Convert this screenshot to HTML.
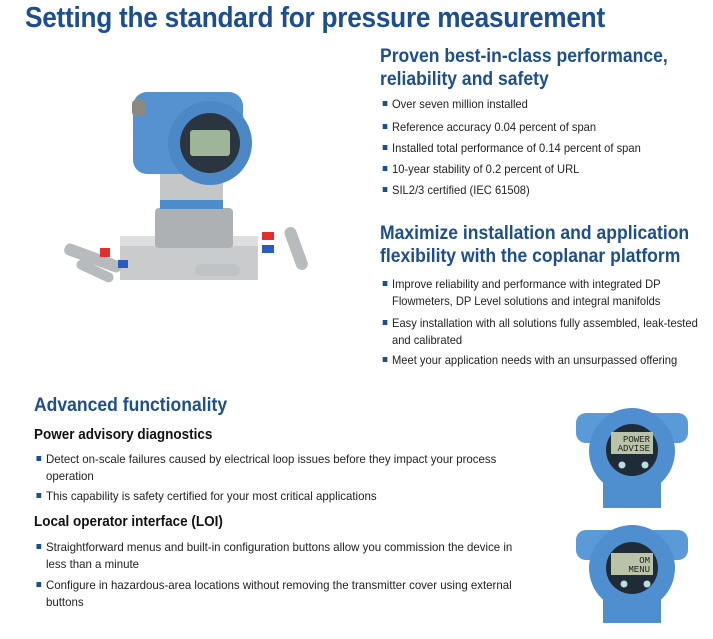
<!DOCTYPE html>
<html><head><meta charset="utf-8"><style>
body{margin:0;width:713px;height:639px;background:#fff;position:relative;overflow:hidden;font-family:"Liberation Sans",sans-serif}
.a{position:absolute;white-space:nowrap}
.t{left:25px;top:2px;font-size:29px;font-weight:bold;color:#1d4f8e;transform:scaleX(0.905);transform-origin:0 0;letter-spacing:-0.3px}
.h{font-size:19.5px;font-weight:bold;color:#1d4f8e;transform:scaleX(0.9);transform-origin:0 0;line-height:23px}
.h2{font-size:14.5px;font-weight:bold;color:#111;transform:scaleX(0.93);transform-origin:0 0}
.b{font-size:12px;color:#222;line-height:16.5px;transform:scaleX(0.93);transform-origin:0 0}
.c{transform:scaleX(0.955)}
.b:before{content:"";position:absolute;left:-10px;top:5px;width:5px;height:5px;background:#1d4f8e}
</style></head><body>
<div class="a t">Setting the standard for pressure measurement</div>
<div class="a h" style="left:380px;top:45px">Proven best-in-class performance,<br>reliability and safety</div>
<div class="a b" style="left:392px;top:96px">Over seven million installed</div>
<div class="a b" style="left:392px;top:119px">Reference accuracy 0.04 percent of span</div>
<div class="a b" style="left:392px;top:140px">Installed total performance of 0.14 percent of span</div>
<div class="a b" style="left:392px;top:161px">10-year stability of 0.2 percent of URL</div>
<div class="a b" style="left:392px;top:182px">SIL2/3 certified (IEC 61508)</div>
<div class="a h" style="left:380px;top:222px">Maximize installation and application<br>flexibility with the coplanar platform</div>
<div class="a b" style="left:392px;top:276px">Improve reliability and performance with integrated DP<br>Flowmeters, DP Level solutions and integral manifolds</div>
<div class="a b" style="left:392px;top:315px">Easy installation with all solutions fully assembled, leak-tested<br>and calibrated</div>
<div class="a b" style="left:392px;top:352px">Meet your application needs with an unsurpassed offering</div>
<div class="a h" style="left:34px;top:394px">Advanced functionality</div>
<div class="a h2" style="left:34px;top:427px">Power advisory diagnostics</div>
<div class="a b c" style="left:46px;top:451px">Detect on-scale failures caused by electrical loop issues before they impact your process<br>operation</div>
<div class="a b c" style="left:46px;top:488px">This capability is safety certified for your most critical applications</div>
<div class="a h2" style="left:34px;top:514px">Local operator interface (LOI)</div>
<div class="a b c" style="left:46px;top:539px">Straightforward menus and built-in configuration buttons allow you commission the device in<br>less than a minute</div>
<div class="a b c" style="left:46px;top:577px">Configure in hazardous-area locations without removing the transmitter cover using external<br>buttons</div>

<svg class="a" style="left:0;top:0" width="713" height="639">
<g stroke="none">
<rect x="120" y="236" width="138" height="44" fill="#c9cbcc"/>
<rect x="120" y="236" width="138" height="10" fill="#dcdedf"/>
<rect x="63" y="252" width="60" height="12" rx="5" fill="#b8bbbe" transform="rotate(20 93 258)"/>
<rect x="75" y="266" width="40" height="10" rx="5" fill="#b8bbbe" transform="rotate(25 95 271)"/>
<rect x="100" y="248" width="10" height="9" fill="#e03030"/>
<rect x="118" y="260" width="10" height="8" fill="#2a5bc0"/>
<rect x="262" y="232" width="12" height="8" fill="#e03030"/>
<rect x="262" y="245" width="12" height="8" fill="#2a5bc0"/>
<rect x="290" y="226" width="12" height="45" rx="6" fill="#b8bbbe" transform="rotate(-20 296 248)"/>
<rect x="195" y="264" width="45" height="12" rx="6" fill="#c0c3c5"/>
<rect x="155" y="208" width="78" height="40" rx="4" fill="#aeb1b3"/>
<rect x="160" y="172" width="63" height="34" fill="#c4c6c8"/>
<rect x="160" y="200" width="63" height="9" fill="#4d8cc8"/>
<rect x="133" y="92" width="110" height="82" rx="14" fill="#5592cf"/>
<rect x="132" y="100" width="14" height="16" rx="4" fill="#8a8a80"/>
<circle cx="210" cy="143" r="42" fill="#4c88c6"/>
<circle cx="210" cy="143" r="30" fill="#2a3540"/>
<rect x="190" y="130" width="40" height="26" rx="3" fill="#9fb59a"/>
</g>
<g>
<rect x="576" y="413" width="112" height="30" rx="10" fill="#5a9ad6"/>
<circle cx="632" cy="451" r="43" fill="#4f8fcf"/>
<rect x="603" y="480" width="58" height="28" fill="#4f8fcf"/>
<circle cx="632" cy="450" r="26" fill="#1f2c38"/>
<rect x="611" y="432" width="42" height="22" fill="#b9c3a8"/>
<text x="650" y="442" font-size="9" text-anchor="end" fill="#222" font-family="Liberation Mono">POWER</text>
<text x="650" y="451" font-size="9" text-anchor="end" fill="#222" font-family="Liberation Mono">ADVISE</text>
<circle cx="622" cy="465" r="3.5" fill="#bdd"/><circle cx="645" cy="465" r="3.5" fill="#bdd"/>
<rect x="576" y="530" width="112" height="30" rx="10" fill="#5a9ad6"/>
<circle cx="632" cy="568" r="43" fill="#4f8fcf"/>
<rect x="603" y="595" width="58" height="28" fill="#4f8fcf"/>
<circle cx="632" cy="568" r="26" fill="#1f2c38"/>
<rect x="611" y="553" width="42" height="22" fill="#b9c3a8"/>
<text x="650" y="563" font-size="9" text-anchor="end" fill="#222" font-family="Liberation Mono">OM</text>
<text x="650" y="572" font-size="9" text-anchor="end" fill="#222" font-family="Liberation Mono">MENU</text>
<circle cx="624" cy="584" r="3.5" fill="#bdd"/><circle cx="647" cy="584" r="3.5" fill="#bdd"/>
</g>
</svg>
</body></html>
